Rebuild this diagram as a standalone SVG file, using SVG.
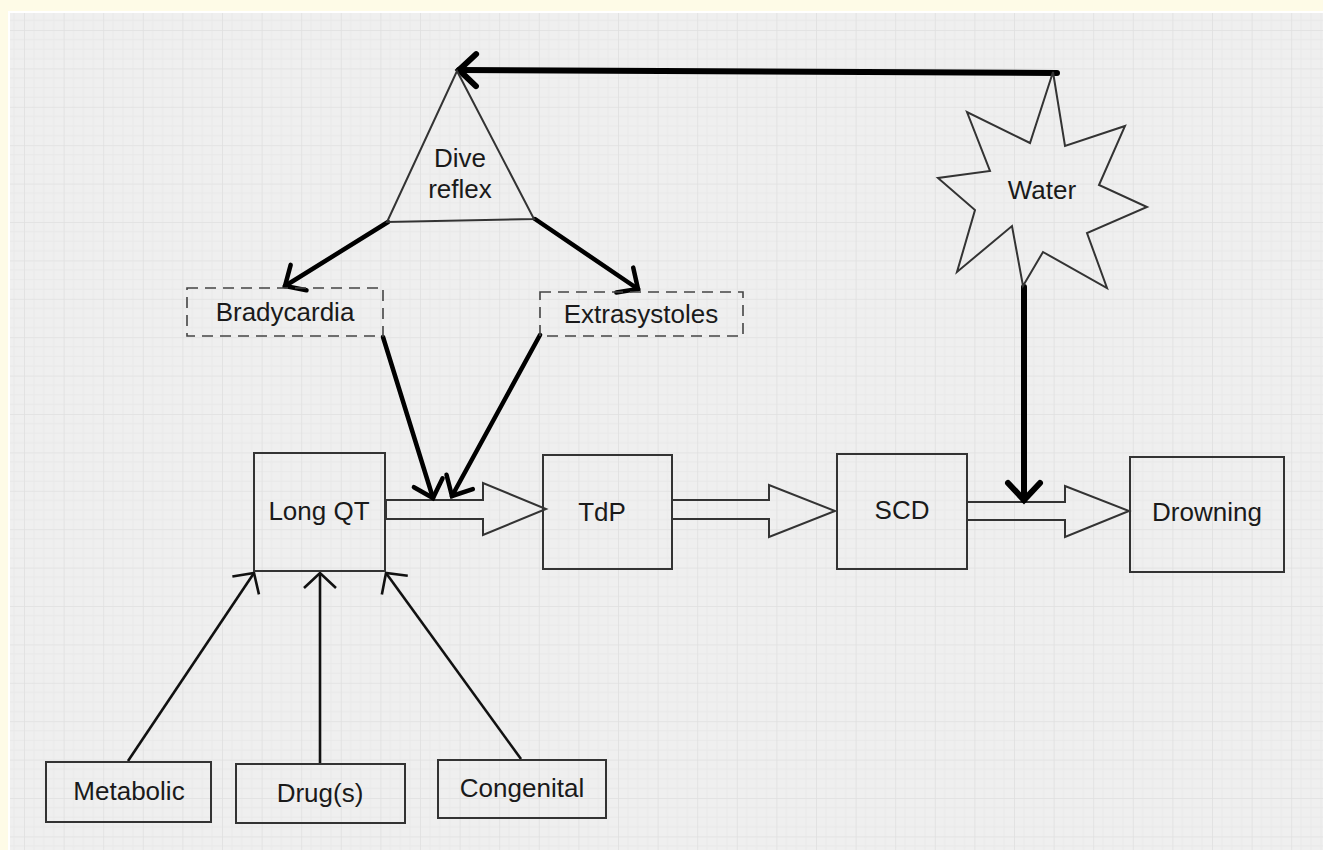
<svg xmlns="http://www.w3.org/2000/svg" width="1323" height="850" viewBox="0 0 1323 850">
<style>
  .box{fill:none;stroke:#333;stroke-width:2}
  .dash{fill:none;stroke:#444;stroke-width:1.6;stroke-dasharray:11 7}
  .shape{fill:none;stroke:#333;stroke-width:2;stroke-linejoin:miter}
  .block{fill:none;stroke:#333;stroke-width:2;stroke-linejoin:miter}
  .lbl{font-family:"Liberation Sans",Arial,sans-serif;font-size:26px;fill:#1a1a1a;text-anchor:middle}
  .thick{fill:none;stroke:#000;stroke-width:6;stroke-linecap:round}
  .mid{fill:none;stroke:#000;stroke-width:4.5;stroke-linecap:round}
  .thin{fill:none;stroke:#111;stroke-width:2.6}
</style>
<defs>
  <pattern id="grid" patternUnits="userSpaceOnUse" x="24" y="30" width="39.6" height="38.4">
    <rect width="39.6" height="38.4" fill="#efefef"/>
    <path d="M9.9 0V38.4M19.8 0V38.4M29.7 0V38.4M0 9.6H39.6M0 19.2H39.6M0 28.8H39.6" stroke="#e9e9e9" stroke-width="1"/>
    <path d="M0 0V38.4M0 0H39.6" stroke="#e0e0e0" stroke-width="1.6"/>
  </pattern>
  <marker id="hThick" markerUnits="userSpaceOnUse" orient="auto" refX="0" refY="0" markerWidth="40" markerHeight="40" overflow="visible">
    <path d="M-17 -16 L0 0 L-17 16" fill="none" stroke="#000" stroke-width="6" stroke-linecap="round" stroke-linejoin="miter"/>
  </marker>
  <marker id="hMid" markerUnits="userSpaceOnUse" orient="auto" refX="0" refY="0" markerWidth="40" markerHeight="40" overflow="visible">
    <path d="M-16 -15 L0 0 L-16 15" fill="none" stroke="#000" stroke-width="4.5" stroke-linecap="round" stroke-linejoin="miter"/>
  </marker>
  <marker id="hThin" markerUnits="userSpaceOnUse" orient="auto" refX="0" refY="0" markerWidth="40" markerHeight="40" overflow="visible">
    <path d="M-15 -16 L0 0 L-15 16" fill="none" stroke="#111" stroke-width="2.6" stroke-linejoin="miter"/>
  </marker>
</defs>

<rect x="0" y="0" width="1323" height="850" fill="#fefbe7"/>
<rect x="8" y="11" width="1315" height="839" fill="#ffffff"/>
<rect x="10" y="13" width="1313" height="837" fill="url(#grid)"/>

<g id="connectors">
  <polygon class="block" points="386,500 483,500 483,483 546,509 483,535 483,519 386,519"/>
  <polygon class="block" points="672,500 769,500 769,485 835,511 769,537 769,519 672,519"/>
  <polygon class="block" points="967,502 1065,502 1065,486 1129,511 1065,537 1065,520 967,520"/>
  <line class="thick" x1="1057" y1="73" x2="459" y2="70" marker-end="url(#hThick)"/>
  <line class="thick" x1="1024" y1="287" x2="1024" y2="500" marker-end="url(#hThick)"/>
  <line class="mid" x1="388" y1="222" x2="285" y2="286" marker-end="url(#hMid)"/>
  <line class="mid" x1="535" y1="219" x2="638" y2="289" marker-end="url(#hMid)"/>
  <line class="mid" x1="383" y1="337" x2="433" y2="498" marker-end="url(#hMid)"/>
  <line class="mid" x1="540" y1="335" x2="452" y2="496" marker-end="url(#hMid)"/>
  <line class="thin" x1="128" y1="761" x2="254" y2="573" marker-end="url(#hThin)"/>
  <line class="thin" x1="320" y1="764" x2="320" y2="573" marker-end="url(#hThin)"/>
  <line class="thin" x1="521" y1="759" x2="386" y2="573" marker-end="url(#hThin)"/>
</g>

<g id="dive-reflex">
  <polygon class="shape" points="457,71 534,219 387,222"/>
  <text class="lbl" x="460" y="167">Dive</text>
  <text class="lbl" x="460" y="198">reflex</text>
</g>
<g id="water">
  <polygon class="shape" points="1053,72 1065,146 1125,126 1099,185 1147,207 1087,233 1107,288 1043,252 1023,286 1012,226 957,272 975,210 938,178 990,171 967,112 1030,143"/>
  <text class="lbl" x="1042" y="199">Water</text>
</g>
<g id="bradycardia">
  <rect class="dash" x="187" y="288" width="196" height="48"/>
  <text class="lbl" x="285" y="321">Bradycardia</text>
</g>
<g id="extrasystoles">
  <rect class="dash" x="540" y="292" width="203" height="44"/>
  <text class="lbl" x="641" y="323">Extrasystoles</text>
</g>
<g id="long-qt">
  <rect class="box" x="254" y="453" width="131" height="118"/>
  <text class="lbl" x="319" y="520">Long QT</text>
</g>
<g id="tdp">
  <rect class="box" x="543" y="455" width="129" height="114"/>
  <text class="lbl" x="602" y="521">TdP</text>
</g>
<g id="scd">
  <rect class="box" x="837" y="454" width="130" height="115"/>
  <text class="lbl" x="902" y="519">SCD</text>
</g>
<g id="drowning">
  <rect class="box" x="1130" y="457" width="154" height="115"/>
  <text class="lbl" x="1207" y="521">Drowning</text>
</g>
<g id="metabolic">
  <rect class="box" x="46" y="762" width="165" height="60"/>
  <text class="lbl" x="129" y="800">Metabolic</text>
</g>
<g id="drugs">
  <rect class="box" x="236" y="764" width="169" height="59"/>
  <text class="lbl" x="320" y="802">Drug(s)</text>
</g>
<g id="congenital">
  <rect class="box" x="438" y="760" width="168" height="58"/>
  <text class="lbl" x="522" y="797">Congenital</text>
</g>
</svg>
